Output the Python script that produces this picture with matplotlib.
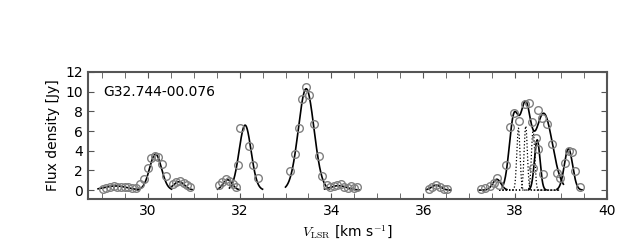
import numpy as np
import matplotlib
matplotlib.use("Agg")
import matplotlib.pyplot as plt
from matplotlib.ticker import MultipleLocator

plt.rcParams['mathtext.fontset'] = 'cm'
plt.rcParams['font.size'] = 10

source = "G32.744-00.076"

# observed channels
vel = [29.02, 29.10, 29.18, 29.26, 29.34, 29.42, 29.50, 29.58, 29.66, 29.74,
       29.84, 29.92, 30.00, 30.08, 30.15, 30.23, 30.31, 30.40, 30.55, 30.62,
       30.70, 30.78, 30.86, 30.93,
       31.55, 31.62, 31.70, 31.78, 31.86, 31.93, 31.96, 32.02, 32.20, 32.30, 32.41,
       33.09, 33.21, 33.30, 33.36, 33.45, 33.52, 33.61, 33.72, 33.80,
       33.90, 33.97, 34.05, 34.12, 34.20, 34.27, 34.35, 34.42, 34.50, 34.55,
       36.13, 36.20, 36.28, 36.36, 36.44, 36.52,
       37.25, 37.35, 37.45, 37.54, 37.60, 37.65, 37.80, 37.89, 37.98, 38.09,
       38.22, 38.30, 38.36, 38.45, 38.49, 38.38, 38.50, 38.59, 38.70, 38.81,
       38.61, 38.90, 38.98, 39.08, 39.17, 39.23, 39.30, 39.41]
flux = [0.15, 0.25, 0.30, 0.40, 0.35, 0.35, 0.30, 0.30, 0.25, 0.20,
        0.60, 1.10, 2.20, 3.30, 3.50, 3.40, 2.70, 1.40, 0.65, 0.80,
        0.90, 0.70, 0.55, 0.30,
        0.50, 0.80, 1.10, 0.90, 0.60, 0.30, 2.50, 6.30, 4.50, 2.60, 1.20,
        1.90, 3.70, 6.30, 9.30, 10.5, 9.70, 6.70, 3.50, 1.40,
        0.50, 0.30, 0.40, 0.55, 0.60, 0.35, 0.20, 0.40, 0.25, 0.30,
        0.15, 0.30, 0.50, 0.35, 0.15, 0.10,
        0.10, 0.20, 0.40, 0.75, 1.20, 0.50, 2.50, 6.40, 7.80, 7.00,
        8.70, 8.90, 6.90, 5.30, 4.20, 2.20, 8.10, 7.30, 6.70, 4.70,
        1.65, 1.75, 1.25, 2.80, 4.00, 3.90, 1.90, 0.30]

# gaussian fit components: curve id, amplitude, centre, sigma
fit_curve = [0, 1, 2, 3, 4, 5, 6, 7, 8, 9, 9, 9, 10, 11]
fit_amp = [0.42, 3.65, 0.85, 1.05, 6.6, 10.3, 0.45, 0.5, 1.1, 7.2, 7.9, 7.8, 5.1, 4.2]
fit_cen = [29.30, 30.17, 30.68, 31.74, 32.12, 33.45, 34.15, 36.28, 37.60,
           37.97, 38.22, 38.62, 38.48, 39.16]
fit_sig = [0.25, 0.13, 0.12, 0.10, 0.13, 0.17, 0.18, 0.10, 0.09,
           0.10, 0.11, 0.19, 0.06, 0.09]
# velocity range each fitted curve is drawn over
curve_lo = [28.92, 29.77, 30.50, 31.52, 31.78, 33.00, 33.85, 36.07, 37.22, 37.72, 38.30, 38.91]
curve_hi = [29.80, 30.52, 30.98, 32.00, 32.50, 33.96, 34.60, 36.60, 37.82, 39.05, 38.67, 39.48]

# narrow components shown dotted
dot_amp = [6.3, 6.5, 6.1]
dot_cen = [38.07, 38.23, 38.39]
dot_sig = [0.035, 0.035, 0.035]
dot_lo, dot_hi = 37.65, 38.96


def gauss(v, a, c, s):
    return a * np.exp(-(v - c) ** 2 / (2 * s ** 2))


fig = plt.figure(figsize=(6.4, 2.4), dpi=100)
ax = fig.add_axes([0.1375, 0.171, 0.811, 0.529])

for k in range(len(curve_lo)):
    vv = np.linspace(curve_lo[k], curve_hi[k], 200)
    ff = np.zeros_like(vv)
    for i in range(len(fit_curve)):
        if fit_curve[i] == k:
            ff += gauss(vv, fit_amp[i], fit_cen[i], fit_sig[i])
    ax.plot(vv, ff, color='k', lw=1.2, zorder=3)

vv = np.linspace(dot_lo, dot_hi, 400)
for a, c, s in zip(dot_amp, dot_cen, dot_sig):
    ax.plot(vv, gauss(vv, a, c, s), color='k', lw=0.9, ls=':', zorder=2)

ax.plot(vel, flux, 'o', mfc='none', mec='#808080', mew=1.0, ms=5.5, zorder=4)

ax.text(0.029, 0.84, source, transform=ax.transAxes, fontsize=10, va='center')

ax.set_xlim(28.7, 40)
ax.set_ylim(-0.9, 12)
ax.xaxis.set_major_locator(MultipleLocator(2))
ax.xaxis.set_minor_locator(MultipleLocator(0.5))
ax.yaxis.set_major_locator(MultipleLocator(2))
ax.tick_params(which='both', direction='in', top=True, right=True, length=4, color='#555555')
for sp in ax.spines.values():
    sp.set_color('#555555')
    sp.set_linewidth(1.5)

ax.set_xlabel(r'$V_{\rm LSR}$ [km s$^{-1}$]')
ax.set_ylabel('Flux density [Jy]')

fig.savefig('out.png', dpi=100)
